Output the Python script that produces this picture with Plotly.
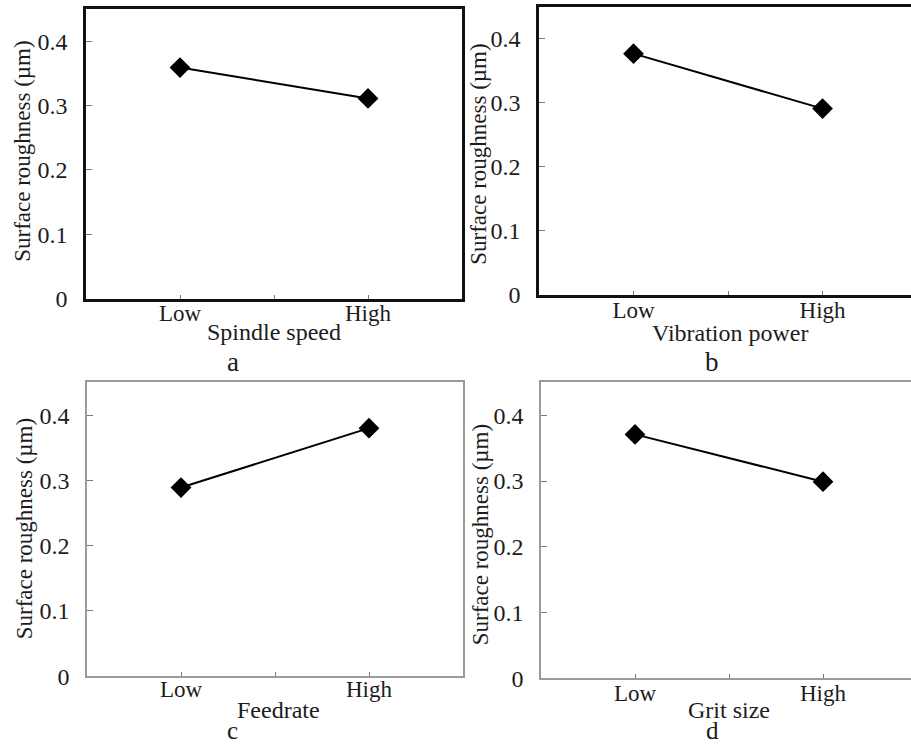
import plotly.graph_objects as go

# ---- data ----
levels = ["Low", "High"]
factors = ["Spindle speed", "Vibration power", "Feedrate", "Grit size"]
panel_letters = ["a", "b", "c", "d"]
roughness_a = [0.359, 0.311]
roughness_b = [0.377, 0.291]
roughness_c = [0.289, 0.380]
roughness_d = [0.371, 0.299]
y_ticks = [0, 0.1, 0.2, 0.3, 0.4]
y_tick_labels = ["0", "0.1", "0.2", "0.3", "0.4"]
y_title = "Surface roughness (µm)"

series = [roughness_a, roughness_b, roughness_c, roughness_d]

W, H = 911, 752
S = 0.984  # vertical correction observed in the rendered picture
FONT = "Liberation Serif"
TXT = "#1c1c1c"

def px(x):
    return x / W

def py(y):
    return 1 - (y / S) / H

# panel frames in pixels: (left, right, top, bottom)
frames = [
    (86, 462, 9, 299),
    (539, 911, 7, 295),
    (87, 463, 383, 677),
    (541, 911, 383, 679),
]
xranges = [[-0.5, 1.5], [-0.5, 1.468], [-0.5, 1.5], [-0.5, 1.468]]
styles = [
    dict(color="#111111", width=2.5, mirror_y=True, standoff=-8),
    dict(color="#111111", width=2.5, mirror_y=False, standoff=-7),
    dict(color="#9a9a9a", width=1.5, mirror_y=True, standoff=-8),
    dict(color="#9a9a9a", width=1.5, mirror_y=False, standoff=-6),
]

positions = list(range(len(levels)))

fig = go.Figure()
layout = dict(
    width=W, height=H, autosize=False,
    margin=dict(l=0, r=0, t=0, b=0, pad=0),
    paper_bgcolor="white", plot_bgcolor="white",
    showlegend=False,
    font=dict(family=FONT, color=TXT, size=22),
)
annotations = []

for i, vals in enumerate(series):
    n = "" if i == 0 else str(i + 1)
    l, r, t, b = frames[i]
    st = styles[i]
    fig.add_trace(go.Scatter(
        x=positions, y=vals, mode="lines+markers",
        line=dict(color="#000000", width=2),
        marker=dict(symbol="diamond", size=16, color="#000000"),
        xaxis="x" + n, yaxis="y" + n, cliponaxis=False,
    ))
    layout["xaxis" + n] = dict(
        domain=[px(l), px(r)], anchor="y" + n, range=xranges[i],
        tickvals=[0, 0.5, 1], ticktext=[levels[0], "", levels[1]],
        ticks="inside", ticklen=4, tickcolor="#777", tickwidth=1,
        showline=True, linecolor=st["color"], linewidth=st["width"], mirror=True,
        showgrid=False, zeroline=False, ticklabelstandoff=st["standoff"],
        tickfont=dict(family=FONT, size=23, color=TXT),
    )
    layout["yaxis" + n] = dict(
        domain=[py(b), py(t)], anchor="x" + n, range=[0, 0.45],
        tickvals=y_ticks, ticktext=y_tick_labels,
        ticks="inside", ticklen=6, tickcolor="#777", tickwidth=1,
        showline=True, linecolor=st["color"], linewidth=st["width"], mirror=st["mirror_y"],
        showgrid=False, zeroline=False, ticklabelstandoff=11,
        tickfont=dict(family=FONT, size=24, color=TXT),
    )

# axis titles, y titles and panel letters (pixel positions)
xtitle_pos = [(274, 332), (730, 333), (278, 711), (729, 711)]
ytitle_pos = [(23, 152), (479, 155), (24, 530), (480, 536)]
letter_pos = [(233, 362), (712, 362), (233, 731), (712, 731)]
letter_size = [27, 27, 25, 25]
for i in range(4):
    annotations.append(dict(
        text=factors[i], x=px(xtitle_pos[i][0]), y=py(xtitle_pos[i][1]),
        xref="paper", yref="paper", xanchor="center", yanchor="middle",
        showarrow=False, font=dict(family=FONT, size=24, color=TXT)))
    annotations.append(dict(
        text=y_title, x=px(ytitle_pos[i][0]), y=py(ytitle_pos[i][1]),
        xref="paper", yref="paper", xanchor="center", yanchor="middle",
        textangle=-90, showarrow=False, font=dict(family=FONT, size=23, color=TXT)))
    annotations.append(dict(
        text=panel_letters[i], x=px(letter_pos[i][0]), y=py(letter_pos[i][1]),
        xref="paper", yref="paper", xanchor="center", yanchor="middle",
        showarrow=False, font=dict(family=FONT, size=letter_size[i], color=TXT)))

layout["annotations"] = annotations
fig.update_layout(**layout)
fig.write_html("out.html", config={"responsive": False})
